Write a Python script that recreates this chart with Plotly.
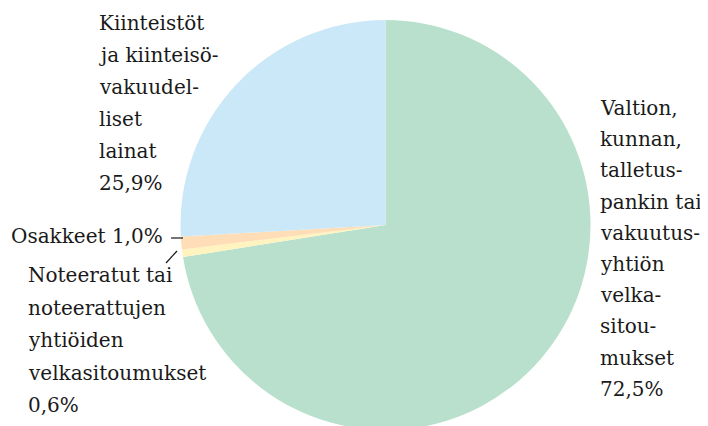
import plotly.graph_objects as go

categories = [
    "Valtion, kunnan, talletuspankin tai vakuutusyhtiön velkasitoumukset",
    "Noteeratut tai noteerattujen yhtiöiden velkasitoumukset",
    "Osakkeet",
    "Kiinteistöt ja kiinteistövakuudelliset lainat",
]
values = [72.5, 0.6, 1.0, 25.9]
colors = ["#B8E0CD", "#FFF4BF", "#FFDDB6", "#CBE8F8"]

label_green = ["Valtion,", "kunnan,", "talletus-", "pankin tai", "vakuutus-",
               "yhtiön", "velka-", "sitou-", "mukset", "72,5%"]
label_blue = ["Kiinteistöt", "ja kiinteisö-", "vakuudel-", "liset", "lainat", "25,9%"]
label_peach = ["Osakkeet 1,0%"]
label_cream = ["Noteeratut tai", "noteerattujen", "yhtiöiden", "velkasitoumukset", "0,6%"]

W, H = 708, 426
OFF = 8  # page body margin
FONT = dict(family="DejaVu Serif", size=20, color="#1a1a1a")

def px(x):
    return (x - OFF) / W

def py(y):
    return 1 - (y - OFF) / H

fig = go.Figure(go.Pie(
    labels=categories, values=values, sort=False, direction="clockwise", rotation=0,
    marker=dict(colors=colors, line=dict(width=0)), textinfo="none", hoverinfo="label+percent",
    domain=dict(x=[px(180.5), px(590.5)], y=[py(430), py(20)]),
    showlegend=False,
))

annotations = []

def add_block(lines, x_px, y0_px, step):
    for i, t in enumerate(lines):
        annotations.append(dict(
            text=t, x=px(x_px), y=py(y0_px + i * step), xref="paper", yref="paper",
            xanchor="left", yanchor="middle", showarrow=False, font=FONT,
        ))

add_block(label_green, 598, 108, 31.2)
add_block(label_blue, 97, 23, 32)
add_block(label_peach, 9, 236, 0)
add_block(label_cream, 26, 275, 32.5)

shapes = [
    dict(type="line", xref="paper", yref="paper", x0=px(171), x1=px(183),
         y0=py(238), y1=py(238), line=dict(color="#1a1a1a", width=1.2)),
    dict(type="line", xref="paper", yref="paper", x0=px(166), x1=px(177),
         y0=py(263), y1=py(251), line=dict(color="#1a1a1a", width=1.2)),
]

fig.update_layout(
    width=W, height=H, margin=dict(l=0, r=0, t=0, b=0),
    paper_bgcolor="white", plot_bgcolor="white",
    annotations=annotations, shapes=shapes,
)

fig.write_html("out.html")
